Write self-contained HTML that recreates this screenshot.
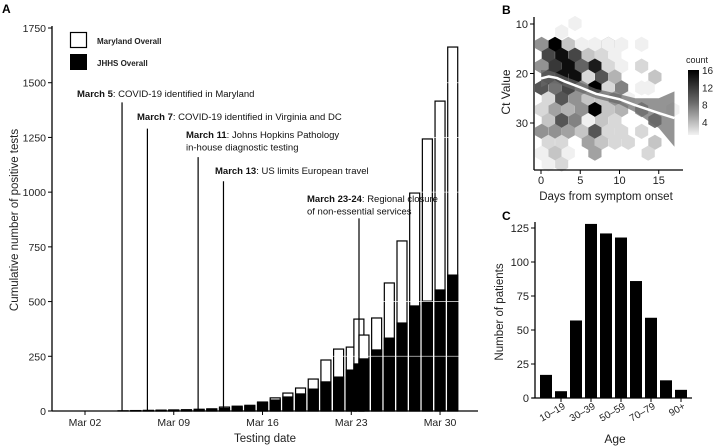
<!DOCTYPE html>
<html><head><meta charset="utf-8">
<style>
html,body{margin:0;padding:0;background:#fff;}
svg{display:block;font-family:"Liberation Sans",sans-serif;}
</style></head>
<body>
<svg id="fig" width="720" height="448" viewBox="0 0 720 448">
<defs>
<linearGradient id="cgrad" x1="0" y1="1" x2="0" y2="0">
<stop offset="0" stop-color="#f2f2f2"/><stop offset="0.5" stop-color="#6a6a6a"/><stop offset="1" stop-color="#000"/>
</linearGradient>
</defs>
</svg>
<script>
// ---- Panel A data ----
const aDays = [5,6,7,8,9,10,11,12,13,14,15,16,17,18,19,20,21,22,23,23.6,24,25,26,27,28,29,30,31];
const aMaryland = [1,2,3,4,5,6,8,10,18,22,26,41,60,82,105,146,233,283,292,420,347,425,585,777,996,1243,1416,1663];
const aJHHS = [0,1,1,2,3,4,6,8,12,18,22,38,50,64,78,100,133,155,187,215,238,279,333,402,480,502,553,621];
const aYTicks = [0,250,500,750,1000,1250,1500,1750];
const aXTickDays = [2,9,16,23,30];
const aXTickLabels = ["Mar 02","Mar 09","Mar 16","Mar 23","Mar 30"];
const aEventDays = [5,7,11,13,23.3];
const aEventTops = [1410,1290,1160,1050,880];
const aEventBold = ["March 5","March 7","March 11","March 13","March 23-24"];
const aEventText = [[": COVID-19 identified in Maryland"],[": COVID-19 identified in Virginia and DC"],[": Johns Hopkins Pathology","in-house diagnostic testing"],[": US limits European travel"],[": Regional closure","of non-essential services"]];
// ---- Panel B data ----
const bDays = [0.08,2.63,4.33,8.57,12.82,1.78,3.48,5.17,6.87,8.57,10.27,12.82,
 0.93,2.63,4.33,6.02,7.72,9.42,
 0.08,1.78,3.48,5.17,6.87,8.57,10.27,12.82,
 0.93,2.63,4.33,6.02,7.72,9.42,14.51,
 0.08,1.78,3.48,5.17,6.87,8.57,10.27,12.82,13.66,
 0.93,2.63,4.33,6.02,7.72,9.42,11.12,
 0.08,1.78,3.48,5.17,6.87,8.57,10.27,12.82,16.8,
 0.93,2.63,4.33,6.02,7.72,9.42,14.51,
 0.08,1.78,3.48,5.17,6.87,8.57,10.27,12.82,
 0.93,2.63,6.02,7.72,9.42,11.12,14.51,
 0.08,1.78,3.48,6.87,13.66,
 0.93,2.63];
const bCt = [14.1,11.6,9.9,14.1,14.1,14.1,14.1,14.1,14.1,14.1,14.1,14.1,
 16.3,16.3,16.3,16.3,16.3,16.3,
 18.5,18.5,18.5,18.5,18.5,18.5,18.5,18.5,
 20.7,20.7,20.7,20.7,20.7,20.7,20.7,
 22.9,22.9,22.9,22.9,22.9,22.9,22.9,22.9,22.9,
 25.1,25.1,25.1,25.1,25.1,25.1,25.1,
 27.3,27.3,27.3,27.3,27.3,27.3,27.3,27.3,27.3,
 29.5,29.5,29.5,29.5,29.5,29.5,29.5,
 31.7,31.7,31.7,31.7,31.7,31.7,31.7,31.7,
 33.9,33.9,33.9,33.9,33.9,33.9,33.9,
 36.1,36.1,36.1,36.1,36.1,
 38.3,38.3];
const bCount = [6,1,1,8,1,16,3,1,1,1,1,1,
 11,15,11,3,2,1,
 6,12,15,9,14,2,1,2,
 12,15,15,2,10,4,3,
 10,8,11,6,16,2,7,1,1,
 2,10,6,3,3,6,1,
 2,5,4,6,16,3,4,6,1,
 3,10,7,1,3,2,8,
 6,6,5,3,10,2,2,2,
 2,2,5,3,2,2,3,
 1,3,1,5,2,
 1,2];
const bSmoothDays = [0,1,2,3,5,7,10,12,15,17];
const bSmoothCt = [21,20.6,20.9,21.6,22.8,24.1,25.2,26.4,28,29];
const bLower = [22.8,22,22,22.6,23.8,25,26.2,27.8,31,34.8];
const bUpper = [19.3,19.4,19.9,20.6,21.8,23.1,24.2,25,25,23.6];
const bXTicks = [0,5,10,15];
const bYTicks = [10,20,30];
const bLegendTicks = [4,8,12,16];
// ---- Panel C data ----
const cCategories = ["0-9","10-19","20-29","30-39","40-49","50-59","60-69","70-79","80-89","90+"];
const cValues = [17,5,57,128,121,118,86,59,13,6];
const cYTicks = [0,25,50,75,100,125];
const cShownLabels = ["10\u201319","30\u201339","50\u201359","70\u201379","90+"];
const cShownIdx = [1,3,5,7,9];

const svg = document.getElementById('fig');
const NS = 'http://www.w3.org/2000/svg';
function mk(tag, attrs, parent){const e=document.createElementNS(NS,tag);for(const k in attrs)e.setAttribute(k,attrs[k]);(parent||svg).appendChild(e);return e;}
function txt(s, attrs, parent){const e=mk('text',attrs,parent);e.textContent=s;return e;}

// ===== Panel A =====
const gA = mk('g',{});


const axX = d => 85 + (d-2)*12.68;
const axY = v => 411 - v/1750*383;
txt('A',{x:2,y:13,'font-size':12,'font-weight':'bold'},gA);
aDays.forEach((d,i)=>{
  const x = axX(d)-5;
  const r1 = mk('rect',{x:x,y:axY(aMaryland[i]),width:10,height:axY(0)-axY(aMaryland[i]),fill:'#fff',stroke:'#000','stroke-width':1.2},gA);
  
  
  const r2 = mk('rect',{x:x,y:axY(aJHHS[i]),width:10,height:axY(0)-axY(aJHHS[i]),fill:'#000',stroke:'#000','stroke-width':1.2},gA);
  
  
});
[250,500,1000,1250,1500].forEach(v=>{
  const l = mk('line',{x1:axX(20),x2:axX(31.5),y1:axY(v),y2:axY(v),stroke:'#fff','stroke-width':0.8,opacity:0.8},gA);
  
  
});
const ay = mk('line',{x1:52,x2:52,y1:26,y2:411,stroke:'#000','stroke-width':1.3},gA);
 
const ax = mk('line',{x1:52,x2:478,y1:411,y2:411,stroke:'#000','stroke-width':1.3},gA);
 
aYTicks.forEach(v=>{
  mk('line',{x1:48,x2:52,y1:axY(v),y2:axY(v),stroke:'#000'},gA);
  const t=txt(String(v),{x:46,y:axY(v)+4,'font-size':10.5,'text-anchor':'end',fill:'#222'},gA);
   
});
aXTickDays.forEach((d,i)=>{
  mk('line',{x1:axX(d),x2:axX(d),y1:411,y2:415,stroke:'#000'},gA);
  const t=txt(aXTickLabels[i],{x:axX(d),y:426,'font-size':10.5,'text-anchor':'middle',fill:'#222'},gA);
   
});
const yt=txt('Cumulative number of positive tests',{x:0,y:0,'font-size':11.5,'text-anchor':'middle',transform:'translate(18,220) rotate(-90)',fill:'#222'},gA);
 
const xt=txt('Testing date',{x:265,y:442,'font-size':11.5,'text-anchor':'middle',fill:'#222'},gA);
 
const lg = mk('g',{},gA);
 
mk('rect',{x:70.5,y:32.5,width:16,height:15,fill:'#fff',stroke:'#000','stroke-width':1.2},lg);
mk('rect',{x:70,y:54,width:17,height:16,fill:'#000'},lg);
txt('Maryland Overall',{x:97,y:44,'font-size':8,'font-weight':'bold',fill:'#222'},lg);
txt('JHHS Overall',{x:97,y:66,'font-size':8,'font-weight':'bold',fill:'#222'},lg);
const evTextX = [77,137,186,215,307];
const evTextY = [97,120,138,174,202];
aEventDays.forEach((d,i)=>{
  const x = i===4 ? 359 : axX(d)-1;
  const l = mk('line',{x1:x,x2:x,y1:axY(aEventTops[i]),y2:411,stroke:'#000','stroke-width':1.2},gA);
  
  
  aEventText[i].forEach((s,j)=>{
    const t = mk('text',{x:evTextX[i],y:evTextY[i]+j*12.5,'font-size':9.5,fill:'#111'},gA);
    
    
    if(j===0){const b=document.createElementNS(NS,'tspan');b.setAttribute('font-weight','bold');b.textContent=aEventBold[i];t.appendChild(b);}
    const r=document.createElementNS(NS,'tspan');r.textContent=s;t.appendChild(r);
  });
});

// ===== Panel B =====
const gB = mk('g',{});


const bx = d => 541 + d*7.85;
const by = c => 24 + (c-10)*4.95;
function shade(n){const t=Math.min(1,(n-1)/15);const v=Math.round(240-240*Math.pow(t,0.85));return 'rgb('+v+','+v+','+v+')';}
txt('B',{x:502,y:14,'font-size':12,'font-weight':'bold'},gB);
const R=7.6;
bDays.forEach((d,i)=>{
  const cx=bx(d), cy=by(bCt[i]); let p=[];
  for(let k=0;k<6;k++){const a=Math.PI/180*(60*k-90);p.push((cx+R*Math.cos(a)).toFixed(1)+','+(cy+R*Math.sin(a)).toFixed(1));}
  const h=mk('polygon',{points:p.join(' '),fill:shade(bCount[i])},gB);
  
  
});
let rp=[];
bSmoothDays.forEach((d,i)=>rp.push(bx(d)+','+by(bUpper[i])));
for(let i=bSmoothDays.length-1;i>=0;i--)rp.push(bx(bSmoothDays[i])+','+by(bLower[i]));
const rib=mk('polygon',{points:rp.join(' '),fill:'#666','fill-opacity':0.7},gB);
 
let sp='';
bSmoothDays.forEach((d,i)=>{sp+=(i?' L':'M')+bx(d)+','+by(bSmoothCt[i]);});
const sl=mk('path',{d:sp,fill:'none',stroke:'#fff','stroke-width':2.5,'stroke-linejoin':'round'},gB);
 
mk('line',{x1:534,x2:534,y1:17,y2:170,stroke:'#000','stroke-width':1.3},gB);
mk('line',{x1:534,x2:683,y1:170,y2:170,stroke:'#000','stroke-width':1.3},gB);
bXTicks.forEach(v=>{
  mk('line',{x1:bx(v),x2:bx(v),y1:170,y2:174,stroke:'#000'},gB);
  txt(String(v),{x:bx(v),y:184,'font-size':11,'text-anchor':'middle',fill:'#222'},gB);
});
bYTicks.forEach(v=>{
  mk('line',{x1:530,x2:534,y1:by(v),y2:by(v),stroke:'#000'},gB);
  txt(String(v),{x:528,y:by(v)+4,'font-size':11,'text-anchor':'end',fill:'#222'},gB);
});
txt('Ct Value',{x:0,y:0,'font-size':12,'text-anchor':'middle',transform:'translate(510,92) rotate(-90)',fill:'#222'},gB);
txt('Days from symptom onset',{x:606,y:200,'font-size':11.5,'text-anchor':'middle',fill:'#222'},gB);
txt('count',{x:686,y:63,'font-size':9,fill:'#222'},gB);
const cb=mk('rect',{x:688,y:70,width:11,height:65,fill:'url(#cgrad)'},gB);
 
bLegendTicks.forEach(v=>{
  const y=135-(v-1)/15*65;
  txt(String(v),{x:702,y:y+4,'font-size':10,fill:'#222'},gB);
});

// ===== Panel C =====
const gC = mk('g',{});


const cy0=398, cScale=170/125;
const cx = i => 546 + i*15;
txt('C',{x:502,y:220,'font-size':12,'font-weight':'bold'},gC);
cValues.forEach((v,i)=>{
  const r=mk('rect',{x:cx(i)-6,y:cy0-v*cScale,width:12,height:v*cScale,fill:'#000'},gC);
  
  
});
mk('line',{x1:535,x2:535,y1:222,y2:398,stroke:'#000','stroke-width':1.3},gC);
mk('line',{x1:532,x2:692,y1:398,y2:398,stroke:'#000','stroke-width':1.3},gC);
cYTicks.forEach(v=>{
  mk('line',{x1:531,x2:535,y1:cy0-v*cScale,y2:cy0-v*cScale,stroke:'#000'},gC);
  txt(String(v),{x:529,y:cy0-v*cScale+4,'font-size':11,'text-anchor':'end',fill:'#222'},gC);
});
cShownIdx.forEach((idx,j)=>{
  const x=cx(idx);
  mk('line',{x1:x,x2:x,y1:398,y2:402,stroke:'#000'},gC);
  txt(cShownLabels[j],{x:0,y:0,'font-size':10,'text-anchor':'end',fill:'#222',transform:'translate('+(x+5)+',408) rotate(-30)'},gC);
});
txt('Number of patients',{x:0,y:0,'font-size':11.5,'text-anchor':'middle',transform:'translate(503,312) rotate(-90)',fill:'#222'},gC);
txt('Age',{x:615,y:443,'font-size':12,'text-anchor':'middle',fill:'#222'},gC);
</script>
</body></html>
